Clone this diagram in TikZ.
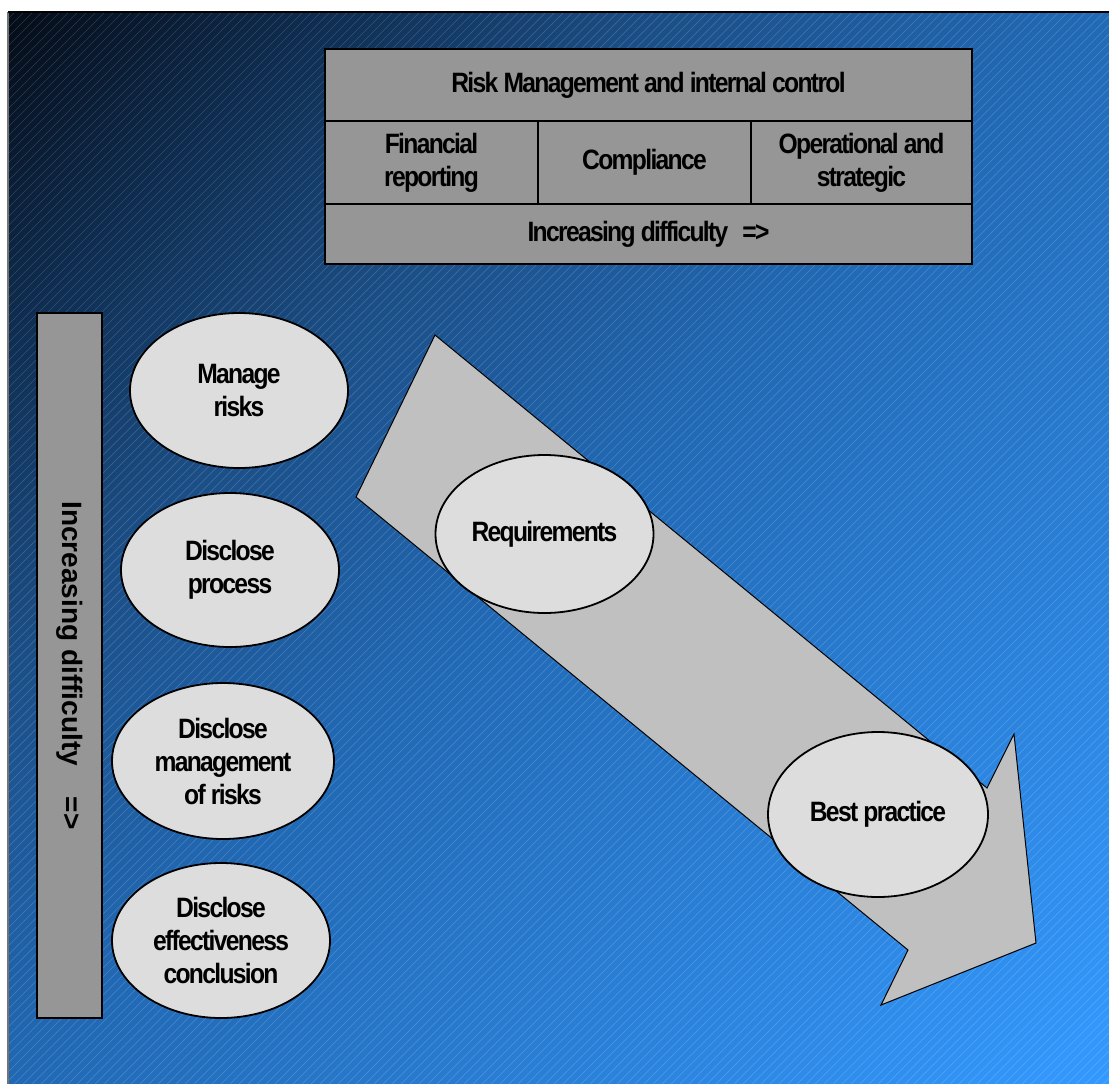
\documentclass[tikz,border=0pt]{standalone}
\usepackage{fontspec}
\setmainfont{Liberation Sans}
\newfontfamily\condf{Liberation Sans}[FakeStretch=0.88, LetterSpace=-6]
\usetikzlibrary{shapes.geometric}
\definecolor{bgA}{HTML}{050C18}
\definecolor{bgB}{HTML}{0F2E52}
\definecolor{bgC}{HTML}{1B4E86}
\definecolor{bgD}{HTML}{2169B5}
\definecolor{bgE}{HTML}{2A80D8}
\definecolor{bgF}{HTML}{3399FF}
\definecolor{cellgray}{HTML}{969696}
\definecolor{ellgray}{HTML}{DDDDDD}
\definecolor{arrgray}{HTML}{C0C0C0}
\pgfdeclarehorizontalshading{bgshade}{100bp}{color(0bp)=(bgA); color(14.64bp)=(bgA); color(25.25bp)=(bgB); color(35.85bp)=(bgC); color(50bp)=(bgD); color(67.67bp)=(bgE); color(85.35bp)=(bgF); color(100bp)=(bgF)}
\begin{document}
\begin{tikzpicture}[x=1pt,y=-1pt,
  hatch/.style={white, opacity=0.16, line width=0.7pt},
  cell/.style={draw=black, line width=1.4pt, fill=cellgray, inner sep=0pt, align=center,
    font=\condf\bfseries\fontsize{28}{33}\selectfont},
  barbox/.style={draw=black, line width=1.4pt, fill=cellgray, inner sep=0pt,
    font=\bfseries\fontsize{28}{32}\selectfont},
  ell/.style={ellipse, draw=black, line width=1.8pt, fill=ellgray, inner sep=0pt, align=center,
    font=\condf\bfseries\fontsize{28}{33}\selectfont},
  arrowshape/.style={draw=black, line width=1pt, fill=arrgray, line join=miter}
]
\useasboundingbox (0,0) rectangle (1109,1084);
\shade[shading=bgshade, shading angle=-45] (8,12) rectangle (1109,1084);
\begin{scope}
  \clip (8,12) rectangle (1109,1084);
  \foreach \c in {0,9,...,2250} \draw[hatch] (\c+100,-100) -- (\c-1300,1300);
\end{scope}
\draw[black!55, line width=1.5pt] (8,1084) -- (8,12);
\draw[black, line width=2pt] (8,12) -- (1109,12);

% table
\node[cell, minimum width=647, minimum height=72] (hdr) at (648.5,85) {Risk Management and internal control};
\node[cell, minimum width=213, minimum height=83] (fin) at (431.5,162.5) {Financial\\reporting};
\node[cell, minimum width=213, minimum height=83] (comp) at (644.5,162.5) {Compliance};
\node[cell, minimum width=221, minimum height=83] (oper) at (861.5,162.5) {Operational and\\strategic};
\node[cell, minimum width=647, minimum height=60] (incr) at (648.5,234) {Increasing difficulty\hspace{0.5em}=>};

% vertical bar
\node[barbox, rotate=-90, minimum width=705, minimum height=65] (diff) at (69.5,665.5) {Increasing difficulty\hspace{1.1em}=>};

% left ellipses
\node[ell, minimum width=218, minimum height=155] (mr) at (239,390.5) {Manage\\risks};
\node[ell, minimum width=218, minimum height=154] (dp) at (230,570) {Disclose\\process};
\node[ell, minimum width=222, minimum height=156] (dm) at (223,761) {Disclose\\management\\of risks};
\node[ell, minimum width=218, minimum height=155] (de) at (221,940.5) {Disclose\\effectiveness\\conclusion};

% big arrow
\draw[arrowshape] (435,335) -- (987,788) -- (1014,734) -- (1036,943) -- (881,1005) -- (908,950) -- (356,497) -- cycle;

\node[ell, minimum width=218, minimum height=158] (req) at (544.5,534) {Requirements};
\node[ell, minimum width=220, minimum height=165] (bp) at (878,814.5) {Best practice};
\end{tikzpicture}
\end{document}
